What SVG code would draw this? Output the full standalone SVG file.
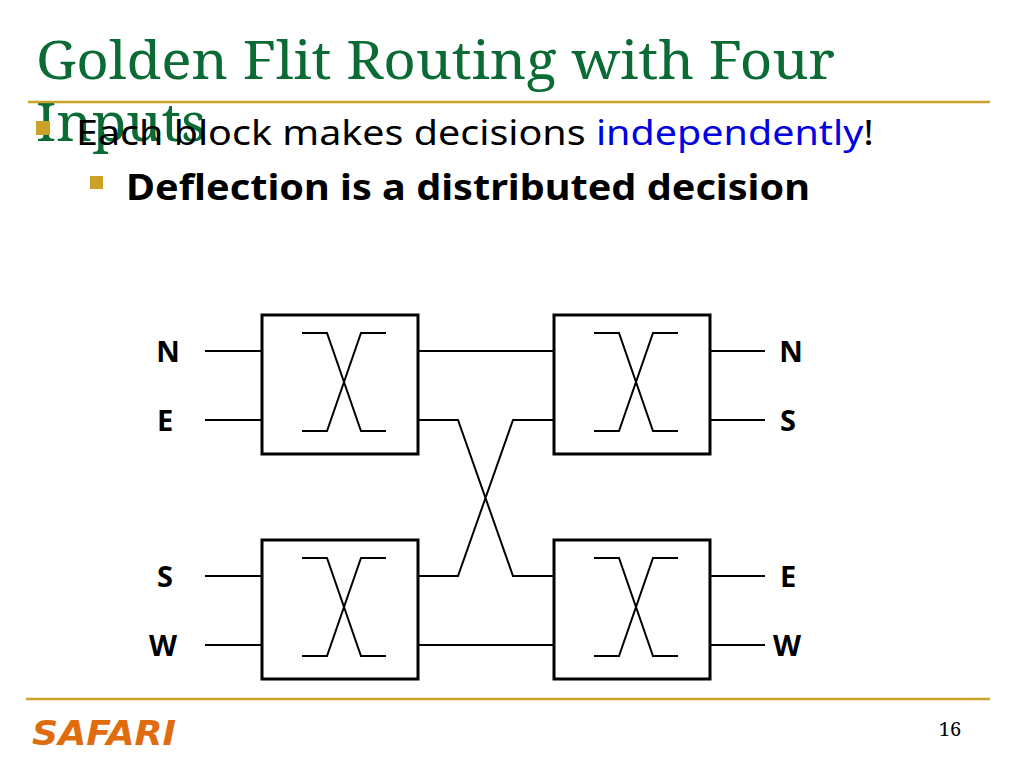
<svg xmlns="http://www.w3.org/2000/svg" width="1024" height="768" viewBox="0 0 1024 768">
<style>
.t{font-family:"Noto Sans","DejaVu Sans",sans-serif}
.lbl{font-family:"Noto Sans","DejaVu Sans",sans-serif;font-weight:bold;font-size:29px;fill:#000;text-anchor:middle}
.box{fill:#fff;stroke:#000;stroke-width:3}
.w{fill:none;stroke:#000;stroke-width:2}
</style>
<defs>
<g id="xx"><path class="w" d="M40 18H65L99 116H124M124 18H99L65 116H40"/></g>
</defs>
<rect width="1024" height="768" fill="#fff"/>
<text x="36" y="79" font-family="'Noto Serif','DejaVu Serif',serif" font-size="53" fill="#0a6b35" textLength="799" lengthAdjust="spacingAndGlyphs">Golden Flit Routing with Four</text>
<text x="36" y="141" font-family="'Noto Serif','DejaVu Serif',serif" font-size="53" fill="#0a6b35" textLength="170" lengthAdjust="spacingAndGlyphs">Inputs</text>
<line x1="28" y1="102" x2="990" y2="102" stroke="#c9a227" stroke-width="2.5"/>
<rect x="36" y="121" width="14" height="14" fill="#c9a227"/>
<text class="t" x="76" y="145" font-size="35" fill="#000" textLength="798" lengthAdjust="spacingAndGlyphs">Each block makes decisions <tspan fill="#0000e0">independently</tspan>!</text>
<rect x="90" y="176" width="13" height="13" fill="#c9a227"/>
<text class="t" x="126" y="200" font-size="35" font-weight="bold" fill="#000" textLength="684" lengthAdjust="spacingAndGlyphs">Deflection is a distributed decision</text>
<g id="connectors">
<path class="w" d="M205 351H262M205 420H262M205 576H262M205 645H262"/>
<path class="w" d="M710 351H765M710 420H765M710 576H765M710 645H765"/>
<path class="w" d="M418 351H554M418 645H554"/>
<path class="w" d="M418 420H458L513 576H554M418 576H458L513 420H554"/>
</g>
<g id="tl"><rect class="box" x="262" y="315" width="156" height="139"/><use href="#xx" x="262" y="315"/></g>
<g id="tr"><rect class="box" x="554" y="315" width="156" height="139"/><use href="#xx" x="554" y="315"/></g>
<g id="bl"><rect class="box" x="262" y="540" width="156" height="139"/><use href="#xx" x="262" y="540"/></g>
<g id="br"><rect class="box" x="554" y="540" width="156" height="139"/><use href="#xx" x="554" y="540"/></g>
<g id="labels">
<text class="lbl" x="168" y="362">N</text>
<text class="lbl" x="165" y="431">E</text>
<text class="lbl" x="165" y="587">S</text>
<text class="lbl" x="163" y="656">W</text>
<text class="lbl" x="791" y="362">N</text>
<text class="lbl" x="788" y="431">S</text>
<text class="lbl" x="788" y="587">E</text>
<text class="lbl" x="787" y="656">W</text>
</g>
<line x1="26" y1="699" x2="990" y2="699" stroke="#c9a227" stroke-width="2.5"/>
<text x="32" y="745" font-family="'DejaVu Sans',sans-serif" font-size="33" font-weight="bold" font-style="italic" fill="#e06c10" textLength="144" lengthAdjust="spacingAndGlyphs">SAFARI</text>
<text x="950" y="736" font-family="'Noto Serif','DejaVu Serif',serif" font-size="20" fill="#000" text-anchor="middle">16</text>
</svg>
